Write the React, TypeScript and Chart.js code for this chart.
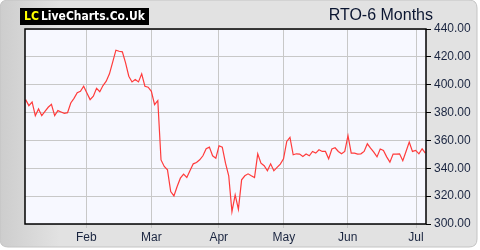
import React, { useEffect, useRef } from "react";
import { Chart, registerables } from "chart.js";

Chart.register(...registerables);

const TITLE = "RTO-6 Months";
const LOGO_LC = "LC";
const LOGO_TEXT = "LiveCharts.Co.Uk";

// Trading-day closing prices, in order
const PRICES: number[] = [
  389.3, 385, 387.6, 377.8, 382.6, 377.8, 380.9, 383.8, 385.9, 377.8,
  381.4, 380.4, 379.4, 379.9, 386.9, 390.2, 394.3, 395.3, 398.9, 394.1,
  389.3, 391.7, 397.4, 395, 399.4, 402.5, 407.8, 416.2, 424.8, 424,
  423.6, 415.7, 406.1, 402, 403.7, 402, 407.8, 398.9, 398.2, 395.3,
  385.7, 388.6, 346, 341.3, 338.9, 323.3, 320.2, 326.9, 332.9, 335.8,
  333.4, 338.4, 343.2, 344.2, 346.1, 349, 354, 355.2, 349, 347.3,
  356.2, 355.2, 343.7, 334.6, 308.9, 320.9, 310.6, 331.7, 334.6, 336,
  334.6, 333.4, 350.4, 343.7, 341.8, 338.2, 343.2, 338.2, 340.6, 343,
  346.8, 359.3, 362.2, 349.7, 350.4, 350.2, 348.5, 350.2, 349, 352.1,
  350.9, 353.3, 352.1, 352.1, 346.8, 353.8, 354.7, 352.1, 350.4, 352.1,
  363.4, 350.9, 350.9, 350.2, 350.4, 352.1, 357.6, 354.5, 351.6, 348.2,
  353.8, 352.8, 348.2, 344.4, 350.2, 350.2, 350.4, 345.4, 352.1, 358.8,
  352.1, 352.8, 350.4, 354, 350.9,
];

// Month boundaries expressed in trading-day index
const MONTH_LABELS = ["Feb", "Mar", "Apr", "May", "Jun", "Jul"];
const MONTH_INDEX = [18.8, 39, 59.9, 80.1, 99.9, 121.1];

const Y_MIN = 300;
const Y_MAX = 440;
const Y_STEP = 20;

const panelPlugin = {
  id: "panel",
  beforeDraw(chart: any) {
    const { ctx, width, height } = chart;
    ctx.save();
    ctx.fillStyle = "#ffffff";
    ctx.fillRect(0, 0, width, height);
    const w = width - 3;
    const h = height - 3;
    const r = 8;
    ctx.beginPath();
    ctx.moveTo(r, 0);
    ctx.lineTo(w - r, 0);
    ctx.quadraticCurveTo(w, 0, w, r);
    ctx.lineTo(w, h - r);
    ctx.quadraticCurveTo(w, h, w - r, h);
    ctx.lineTo(r, h);
    ctx.quadraticCurveTo(0, h, 0, h - r);
    ctx.lineTo(0, r);
    ctx.quadraticCurveTo(0, 0, r, 0);
    ctx.closePath();
    const g = ctx.createLinearGradient(0, 0, 60, 0);
    g.addColorStop(0, "#cdcdcd");
    g.addColorStop(1, "#e2e2e2");
    ctx.fillStyle = g;
    ctx.fill();
    ctx.strokeStyle = "#c4c4c4";
    ctx.lineWidth = 1;
    ctx.stroke();

    // logo
    ctx.fillStyle = "#000000";
    ctx.fillRect(20, 8, 129, 17);
    ctx.font = "bold 12px 'DejaVu Sans', sans-serif";
    ctx.textBaseline = "middle";
    ctx.textAlign = "left";
    ctx.fillStyle = "#ffff00";
    ctx.fillText(LOGO_LC, 24, 17, 15);
    ctx.fillStyle = "#ffffff";
    ctx.fillText(LOGO_TEXT, 41, 17, 104);

    // title
    ctx.font = "16px 'Liberation Sans', Arial, sans-serif";
    ctx.fillStyle = "#0a1530";
    ctx.textAlign = "right";
    ctx.fillText(TITLE, 433, 16);
    ctx.restore();
  },
  afterDraw(chart: any) {
    const { ctx, chartArea } = chart;
    ctx.save();
    ctx.strokeStyle = "#000000";
    ctx.lineWidth = 1.5;
    ctx.strokeRect(chartArea.left, chartArea.top, chartArea.right - chartArea.left, chartArea.bottom - chartArea.top);
    ctx.restore();
  },
};

const plotBgPlugin = {
  id: "plotBg",
  beforeDraw(chart: any) {
    const { ctx, chartArea } = chart;
    ctx.save();
    ctx.fillStyle = "#f7f8ff";
    ctx.fillRect(chartArea.left, chartArea.top, chartArea.right - chartArea.left, chartArea.bottom - chartArea.top);
    ctx.restore();
  },
};

export default function App() {
  const ref = useRef<HTMLCanvasElement | null>(null);

  useEffect(() => {
    document.body.style.margin = "0";
    const canvas = ref.current;
    if (!canvas) return;
    const data = PRICES.map((v, i) => ({ x: i, y: v }));
    const chart = new Chart(canvas, {
      type: "line",
      data: {
        datasets: [
          {
            data,
            borderColor: "#ff3b3b",
            borderWidth: 1.2,
            pointRadius: 0,
            tension: 0,
            fill: false,
          },
        ],
      },
      options: {
        animation: false,
        responsive: false,
        maintainAspectRatio: false,
        layout: { padding: { left: 25, top: 29, right: 0, bottom: 0 } },
        plugins: {
          legend: { display: false },
          tooltip: { enabled: false },
          title: { display: false },
        },
        scales: {
          x: {
            type: "linear",
            min: -0.2,
            max: 124.2,
            afterBuildTicks(scale: any) {
              scale.ticks = MONTH_INDEX.map((v) => ({ value: v }));
            },
            afterFit(scale: any) {
              scale.height = 26;
            },
            ticks: {
              autoSkip: false,
              maxRotation: 0,
              padding: 2,
              color: "#1a2540",
              font: { family: "'Liberation Sans', Arial, sans-serif", size: 12 },
              callback(value: any) {
                const idx = MONTH_INDEX.indexOf(Number(value));
                return idx >= 0 ? MONTH_LABELS[idx] : "";
              },
            },
            grid: {
              color: "#c8c8c8",
              lineWidth: 1,
              tickLength: 4,
              tickColor: "#c8c8c8",
            },
            border: { display: false },
          },
          y: {
            type: "linear",
            position: "right",
            min: Y_MIN,
            max: Y_MAX,
            afterFit(scale: any) {
              scale.width = 54;
            },
            ticks: {
              stepSize: Y_STEP,
              padding: 3,
              color: "#1a2540",
              font: { family: "'Liberation Sans', Arial, sans-serif", size: 12 },
              callback(value: any) {
                return Number(value).toFixed(2);
              },
            },
            grid: {
              color: "#c8c8c8",
              lineWidth: 1,
              tickLength: 5,
              tickColor: "#000000",
            },
            border: { display: false },
          },
        },
      },
      plugins: [panelPlugin, plotBgPlugin],
    });
    return () => chart.destroy();
  }, []);

  return (
    <div style={{ position: "absolute", left: 0, top: 0, width: 480, height: 250 }}>
      <canvas ref={ref} width={480} height={250} style={{ width: 480, height: 250, display: "block" }} />
    </div>
  );
}
